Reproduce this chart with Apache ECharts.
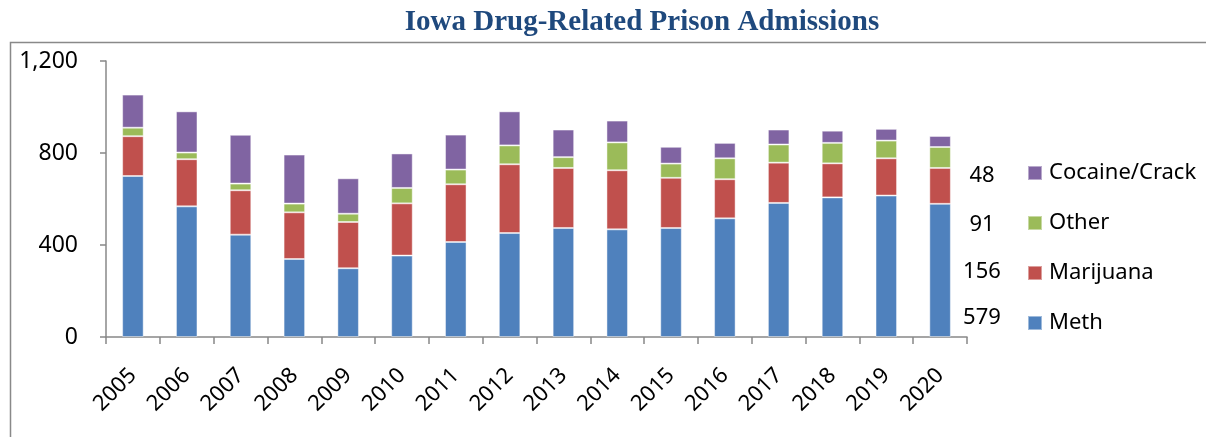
<!DOCTYPE html>
<html>
<head>
<meta charset="utf-8">
<script src="https://cdn.jsdelivr.net/npm/echarts@6/dist/echarts.min.js"></script>
<style>
html,body{margin:0;padding:0;background:#fff;}
#chart{width:1206px;height:437px;}
</style>
</head>
<body>
<div id="chart"></div>
<script>
const years = ['2005','2006','2007','2008','2009','2010','2011','2012','2013','2014','2015','2016','2017','2018','2019','2020'];
const meth      = [700,568,445,339,299,354,413,452,474,468,474,516,583,607,615,579];
const marijuana = [173,205,193,203,201,227,251,299,261,257,218,170,175,148,162,156];
const other     = [37,29,29,38,36,67,64,82,47,121,62,91,79,89,77,91];
const cocaine   = [144,179,212,213,154,150,152,148,120,95,73,67,65,53,51,48];
const legendOrder = ['Cocaine/Crack','Other','Marijuana','Meth'];

const colors = {Meth:'#4F81BD', Marijuana:'#C0504D', Other:'#9BBB59', 'Cocaine/Crack':'#8064A2'};
const seriesData = {Meth:meth, Marijuana:marijuana, Other:other, 'Cocaine/Crack':cocaine};
const stackOrder = ['Meth','Marijuana','Other','Cocaine/Crack'];

const chart = echarts.init(document.getElementById('chart'));
const FONT = 'Noto Sans';

const labelRowsY = [176, 225, 272, 318];
const valueTexts = legendOrder.map((name, i) => {
  const arr = seriesData[name];
  return {
    type: 'text', x: 982, y: labelRowsY[i],
    style: {text: String(arr[arr.length-1]), font: '22px "Noto Sans"', fill: '#000', textAlign: 'center', textVerticalAlign: 'middle'}
  };
});

chart.setOption({
  animation: false,
  backgroundColor: '#fff',
  title: {
    text: 'Iowa Drug-Related Prison Admissions',
    left: 637, top: 3, textAlign: 'center',
    textStyle: {fontFamily: 'Liberation Serif', fontWeight: 'bold', fontSize: 29, color: '#1F497D'}
  },
  grid: {left: 106, right: 239, top: 61, bottom: 100},
  legend: {
    orient: 'vertical', left: 1022, top: 157,
    itemWidth: 14, itemHeight: 14, itemGap: 28,
    icon: 'rect',
    data: legendOrder,
    textStyle: {fontFamily: FONT, fontSize: 22, color: '#000', padding: [0,0,0,2]}
  },
  xAxis: {
    type: 'category', data: years,
    axisLine: {lineStyle: {color: '#888', width: 1.5}},
    axisTick: {show: true, length: 7, lineStyle: {color: '#888', width: 1.5}},
    axisLabel: {rotate: 45, margin: 35, fontFamily: FONT, fontSize: 22, color: '#000'}
  },
  yAxis: {
    type: 'value', min: 0, max: 1200, interval: 400,
    axisLine: {show: true, lineStyle: {color: '#888', width: 1.5}},
    axisTick: {show: true, length: 6, lineStyle: {color: '#888', width: 1.5}},
    splitLine: {show: false},
    axisLabel: {margin: 28, fontFamily: FONT, fontSize: 23, color: '#000',
      formatter: v => v.toLocaleString('en-US')}
  },
  series: stackOrder.map(name => ({
    name: name, type: 'bar', stack: 'total', barWidth: '40%',
    data: seriesData[name],
    itemStyle: {color: colors[name], borderColor: 'rgba(255,255,255,0.45)', borderWidth: 1}
  })),
  graphic: [
    {type: 'rect', shape: {x: 10.5, y: 42.5, width: 1300, height: 500},
     style: {fill: null, stroke: '#898989', lineWidth: 1.5}, silent: true, z: -1}
  ].concat(valueTexts)
});
</script>
</body>
</html>
